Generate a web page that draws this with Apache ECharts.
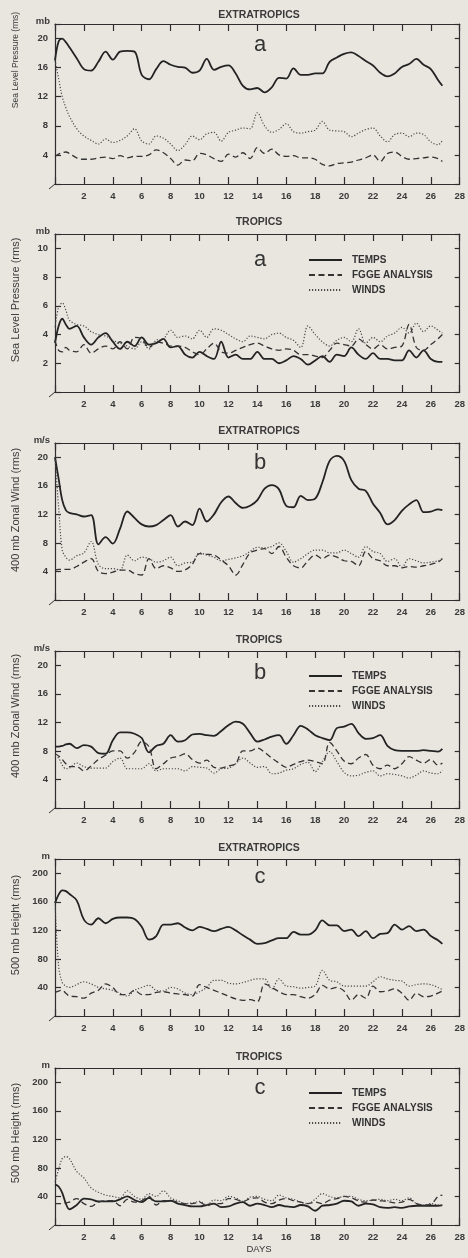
<!DOCTYPE html>
<html><head><meta charset="utf-8">
<script src="https://cdn.jsdelivr.net/npm/echarts@6/dist/echarts.min.js"></script>
<style>html,body{margin:0;padding:0;background:#e9e6e0;}#c{width:468px;height:1258px;}</style>
</head><body><div id="c"></div>
<script>
// ---------- DATA ----------
const days = [0,0.25,0.5,0.75,1,1.5,2,2.5,3,3.5,4,4.5,5,5.5,6,6.5,7,7.5,8,8.5,9,9.5,10,10.5,11,11.5,12,12.5,13,13.5,14,14.5,15,15.5,16,16.5,17,17.5,18,18.5,19,19.5,20,20.5,21,21.5,22,22.5,23,23.5,24,24.5,25,25.5,26,26.5,26.8];

const seriesNames = ['TEMPS','FGGE ANALYSIS','WINDS'];
const panelTitles = ['EXTRATROPICS','TROPICS','EXTRATROPICS','TROPICS','EXTRATROPICS','TROPICS'];
const panelLetters = ['a','a','b','b','c','c'];
const unitLabels = ['mb','mb','m/s','m/s','m','m'];
const yTitles = ['Sea Level Pressure (rms)','Sea Level Pressure (rms)','400 mb Zonal Wind (rms)','400 mb Zonal Wind (rms)','500 mb Height (rms)','500 mb Height (rms)'];
const yMax = [22,11,22,22,220,220];
const yStep = [4,2,4,4,40,40];
const xLabel = 'DAYS';

// Sea level pressure, extratropics (mb)
const slpExtTemps = [17,19.6,20,19.5,18.8, 17.3,15.8,15.6,16.8,18.2, 17.1,18.2,18.3,18.2,15.0, 14.4,15.8,16.9,16.4,16.1, 16.0,15.3,15.6,17.2,15.7, 16.1,16.3,15.2,13.5,13.0, 13.2,12.6,13.3,14.6,14.5, 15.9,15.0,15.0,15.2,15.2, 16.8,17.4,17.9,18.1,17.6, 16.9,16.3,15.3,14.8,15.2, 16.1,16.5,17.2,16.4,15.8, 14.3,13.5];
const slpExtFgge  = [3.8,4.1,4.3,4.4,4.2, 3.6,3.4,3.4,3.6,3.7, 3.5,3.9,3.6,3.8,3.8, 4.0,4.7,4.3,3.5,2.6, 3.3,3.2,4.2,4.0,3.5, 3.1,4.1,3.7,4.3,3.5, 5.0,4.2,4.8,4.0,3.8, 3.9,3.6,3.6,3.4,2.7, 2.5,2.8,2.9,3.0,3.3, 3.6,4.0,3.1,4.2,4.4, 3.8,3.4,3.5,3.6,3.7, 3.5,3.1];
const slpExtWinds = [17,14.5,12,10.5,9.3, 7.6,6.6,6.0,5.5,6.2, 5.7,6.0,6.6,7.6,5.9, 5.5,6.6,6.3,5.5,4.6, 5.4,6.6,6.1,6.9,7.1, 5.9,7.1,7.4,7.7,7.6, 9.8,8.0,7.1,7.5,8.3, 7.2,7.0,7.2,7.4,8.6, 7.4,7.3,7.2,6.5,7.0, 7.5,7.7,6.6,5.8,6.8, 7.0,6.5,7.0,6.8,5.8, 5.4,6.0];

// Sea level pressure, tropics (mb)
const slpTropTemps = [3.4,4.6,5.1,4.7,4.4, 4.6,3.8,3.3,3.8,4.1, 3.5,3.0,3.5,3.2,3.8, 3.3,3.4,3.7,3.1,3.2, 2.6,2.4,2.8,2.5,2.3, 3.5,2.4,2.6,2.3,2.3, 2.8,2.3,2.3,2.0,2.2, 2.5,2.3,1.9,2.2,2.5, 2.1,2.6,2.5,3.1,2.6, 2.3,2.7,2.3,2.3,2.2, 2.2,2.9,2.4,2.9,2.3, 2.1,2.1];
const slpTropFgge  = [3.6,2.9,2.8,3.1,2.9, 2.8,3.3,2.7,3.0,3.2, 3.0,3.5,3.0,3.8,3.7, 3.1,3.5,3.4,3.2,3.2, 3.1,2.8,2.6,3.0,3.4, 2.8,2.7,2.9,3.1,3.3, 3.4,3.2,3.0,2.9,3.0, 2.9,2.6,2.6,2.5,2.4, 2.9,3.4,3.3,3.2,3.7, 3.3,3.0,3.3,3.0,3.1, 3.2,4.7,3.1,2.9,3.3, 3.7,4.0];
const slpTropWinds = [4.5,5.9,6.2,5.7,5.0, 4.7,4.6,4.2,4.0,3.9, 3.6,3.4,3.2,3.0,3.5, 3.0,3.6,3.7,4.3,3.8, 3.9,3.7,4.3,3.8,4.4, 4.3,4.0,3.7,3.5,3.9, 3.8,3.7,4.0,4.1,3.8, 3.6,3.1,4.6,4.0,3.5, 3.2,3.6,3.8,3.5,4.4, 3.4,3.8,3.5,3.9,4.1, 4.5,4.1,4.8,4.2,4.6, 4.3,4.1];

// 400 mb zonal wind, extratropics (m/s)
const windExtTemps = [20,17,14,12.6,12.2, 12,11.7,11.9,7.8,8.8, 7.9,10,12.4,11.5,10.6, 10.3,10.5,11.2,11.9,10.3, 11,10.5,12.8,11,12, 13.7,14.5,13.6,12.9,13.2, 14,15.6,16.1,15.5,13.2, 13,14.6,14,14.2,16.5, 19.5,20.2,19.5,16.8,15.6, 15.3,13.5,12.2,10.6,11.2, 12.5,13.4,14,12.3,12.4, 12.7,12.6];
const windExtFgge  = [4.2,4.3,4.3,4.3,4.3, 4.7,5.3,5.8,4.0,3.7, 3.9,4.2,4.2,3.7,3.5, 5.8,4.4,4.8,4.5,4.0, 4.2,5.0,6.5,6.4,6.3, 5.6,4.8,3.5,5.0,6.6, 7.0,7.2,6.5,7.5,6.0, 4.8,4.5,5.5,6.3,5.8, 6.3,6.0,5.5,5.4,4.8, 6.8,5.8,5.5,4.8,4.8, 4.5,4.7,4.6,4.8,5.0, 5.3,5.8];
const windExtWinds = [20,13,7,6,5.6, 6.2,6.6,8.2,5.0,4.4, 4.4,4.2,6.3,5.5,6.0, 5.8,5.3,5.5,6.0,4.8, 5.2,5.3,6.6,6.3,6.0, 5.5,5.7,5.9,6.2,6.8, 7.4,7.3,7.5,8.0,6.8, 5.3,5.8,6.5,7.0,7.0, 6.6,6.6,7.0,6.5,6.0, 7.5,6.8,6.5,5.4,5.8, 4.6,5.8,5.5,5.2,5.3, 5.5,5.8];

// 400 mb zonal wind, tropics (m/s)
const windTropTemps = [8.6,8.6,8.7,8.9,9.0, 8.4,8.8,8.6,7.7,7.6, 9.5,10.6,10.6,10.4,9.8, 7.8,8.7,9.0,10.2,9.3, 9.5,10.3,10.4,10.2,10.1, 10.8,11.6,12.1,11.8,10.5, 9.3,9.6,10.0,10.2,9.0, 10.2,11.5,11.0,10.2,9.8, 9.5,11.2,11.4,11.8,10.5, 9.7,9.8,10.2,8.7,8.1, 8.0,8.0,8.0,8.1,8.0, 7.9,8.3];
const windTropFgge  = [7.6,7.3,6.8,6.2,5.8, 5.8,5.2,5.9,6.8,7.4, 8.0,8.0,7.0,7.8,9.3, 8.6,5.5,6.2,7.0,7.2, 7.6,6.8,6.3,6.7,5.7, 5.6,5.9,6.2,8.0,8.0, 8.4,7.8,7.0,6.3,5.7, 6.1,6.5,6.7,6.5,6.2, 9.2,8.0,6.6,6.2,7.0, 7.5,6.0,5.5,6.0,5.5, 6.2,7.2,6.7,6.3,6.8, 6.0,6.3];
const windTropWinds = [7.3,7.0,6.0,5.5,5.6, 6.3,5.8,5.6,5.6,5.6, 6.5,7.0,5.5,5.5,5.5, 6.2,5.2,5.5,5.5,5.5, 5.2,5.8,5.7,5.6,4.9, 5.5,5.6,6.2,7.0,6.3, 5.7,5.8,4.8,4.9,5.3, 5.5,6.1,6.4,5.1,6.5, 7.9,6.5,5.0,4.5,4.6, 5.0,5.2,4.5,4.8,4.7, 4.5,4.2,4.6,5.2,4.9, 4.8,5.3];

// 500 mb height, extratropics (m)
const hgtExtTemps = [158,170,176,175,171, 162,135,128,137,130, 136,138,138,136,125, 107,112,128,128,130, 124,120,125,122,119, 122,125,120,113,107, 101,102,106,109,109, 118,114,114,120,134, 127,127,119,121,112, 119,109,115,116,128, 121,126,119,121,112, 106,101];
const hgtExtFgge  = [33,35,36,32,28, 27,25,32,36,45, 40,30,30,36,30, 30,33,34,32,31, 30,28,44,40,36, 32,28,24,22,23, 20,45,40,34,30, 30,27,25,30,43, 38,40,35,22,30, 25,42,34,35,38, 32,22,32,27,28, 32,35];
const hgtExtWinds = [160,70,47,42,40, 44,48,45,40,38, 36,32,28,36,40, 43,36,35,40,38, 32,30,34,40,50, 50,46,45,47,50, 52,52,38,52,42, 41,39,40,42,64, 50,48,42,42,42, 42,48,55,52,50, 49,42,44,45,44, 40,37];

// 500 mb height, tropics (m)
const hgtTropTemps = [57,54,45,30,22, 28,37,36,33,33, 33,36,40,35,32, 38,33,33,34,30, 28,26,26,28,30, 25,26,30,32,27, 30,28,25,28,26, 25,28,26,20,27, 28,30,34,33,27, 30,29,25,24,25, 24,26,27,27,27, 27,28];
const hgtTropFgge  = [30,30,30,31,32, 37,30,26,32,34, 34,27,36,32,34, 40,28,34,34,32, 30,30,32,27,30, 30,37,36,33,37, 38,32,30,35,37, 34,32,30,32,30, 35,37,40,38,34, 32,35,34,33,31, 32,36,30,28,29, 40,42];
const hgtTropWinds = [60,78,93,96,93, 75,66,52,46,42, 40,38,48,40,36, 44,40,48,38,34, 30,31,33,28,35, 34,40,38,33,39, 40,36,34,42,38, 36,32,30,36,44, 40,38,40,40,36, 34,35,36,34,36, 34,38,30,28,30, 28,27];

const panelSeries = [
  [slpExtTemps, slpExtFgge, slpExtWinds],
  [slpTropTemps, slpTropFgge, slpTropWinds],
  [windExtTemps, windExtFgge, windExtWinds],
  [windTropTemps, windTropFgge, windTropWinds],
  [hgtExtTemps, hgtExtFgge, hgtExtWinds],
  [hgtTropTemps, hgtTropFgge, hgtTropWinds]
];

// ---------- LAYOUT / STYLE ----------
const FONT = '"Liberation Sans", Arial, sans-serif';
const INK = '#2e2e2e';
const layout = [
  {top: 24,   h: 160, titleY: 15,   letterY: 45,   yTitleY: 60,   yTitleSize: 8.5, legendY: null},
  {top: 234,  h: 158, titleY: 222,  letterY: 260,  yTitleY: 300,  yTitleSize: 11,  legendY: 260},
  {top: 443,  h: 157, titleY: 431,  letterY: 463,  yTitleY: 510,  yTitleSize: 11,  legendY: null},
  {top: 651,  h: 157, titleY: 640,  letterY: 673,  yTitleY: 716,  yTitleSize: 11,  legendY: 676},
  {top: 859,  h: 157, titleY: 848,  letterY: 877,  yTitleY: 925,  yTitleSize: 11,  legendY: null},
  {top: 1068, h: 157, titleY: 1057, letterY: 1088, yTitleY: 1133, yTitleSize: 11,  legendY: 1093}
];
const GL = 55, GR = 5;
const lineStyles = [
  {type: 'solid', width: 1.8, color: '#232323'},
  {type: [6, 3.5], width: 1.3, color: '#333333'},
  {type: [1.2, 1.8], width: 1.2, color: '#4a4a4a'}
];

const grid = [], xAxis = [], yAxis = [], series = [], graphic = [], legend = [];
layout.forEach((L, i) => {
  grid.push({left: GL, right: GR, top: L.top, height: L.h});
  const axLine = {show: true, onZero: false, lineStyle: {color: INK, width: 1.2}};
  const tick = {show: true, inside: true, length: 7, lineStyle: {color: INK, width: 1.2}};
  const lbl = {show: true, margin: 7, fontSize: 9.5, fontWeight: 'bold', color: '#3a3a3a', fontFamily: FONT};
  xAxis.push({type: 'value', gridIndex: i, min: 0, max: 28, interval: 2, position: 'bottom',
    axisLine: axLine, axisTick: tick, splitLine: {show: false},
    axisLabel: Object.assign({}, lbl, {formatter: v => (v === 0 ? '' : String(v))})});
  xAxis.push({type: 'value', gridIndex: i, min: 0, max: 28, interval: 2, position: 'top',
    axisLine: axLine, axisTick: tick, splitLine: {show: false}, axisLabel: {show: false}});
  const mx = yMax[i], st = yStep[i];
  yAxis.push({type: 'value', gridIndex: i, min: 0, max: mx, interval: st, position: 'left',
    axisLine: axLine, axisTick: {show: true, inside: true, length: 6, lineStyle: {color: INK, width: 1.2}},
    splitLine: {show: false},
    axisLabel: Object.assign({}, lbl, {formatter: v => (v > 0 && v < mx && v % st === 0 ? String(v) : '')})});
  yAxis.push({type: 'value', gridIndex: i, min: 0, max: mx, interval: st, position: 'right',
    axisLine: axLine, axisTick: {show: true, inside: true, length: 5, lineStyle: {color: INK, width: 1.2}},
    splitLine: {show: false}, axisLabel: {show: false}});

  panelSeries[i].forEach((arr, s) => {
    series.push({
      type: 'line', name: seriesNames[s], xAxisIndex: 2 * i, yAxisIndex: 2 * i,
      data: days.map((d, k) => [d, arr[k]]),
      symbol: 'none', smooth: 0.35, silent: true,
      lineStyle: lineStyles[s], itemStyle: {color: lineStyles[s].color}
    });
  });

  graphic.push({type: 'text', x: 259, y: L.titleY, silent: true,
    style: {text: panelTitles[i], fontSize: 10.5, fontWeight: 'bold', fontFamily: FONT, fill: '#3a3a3a',
      align: 'center', verticalAlign: 'middle'}});
  graphic.push({type: 'text', x: 260, y: L.letterY, silent: true,
    style: {text: panelLetters[i], fontSize: 22, fontFamily: FONT, fill: '#333',
      align: 'center', verticalAlign: 'middle'}});
  graphic.push({type: 'text', x: 50, y: L.top - 3, silent: true,
    style: {text: unitLabels[i], fontSize: 9.5, fontWeight: 'bold', fontFamily: FONT, fill: '#3a3a3a',
      align: 'right', verticalAlign: 'middle'}});
  graphic.push({type: 'text', x: 16, y: L.yTitleY, rotation: Math.PI / 2, silent: true,
    style: {text: yTitles[i], fontSize: L.yTitleSize, fontFamily: FONT, fill: '#3a3a3a',
      align: 'center', verticalAlign: 'middle'}});
  graphic.push({type: 'line', silent: true,
    shape: {x1: GL - 6, y1: L.top + L.h + 5, x2: GL, y2: L.top + L.h},
    style: {stroke: INK, lineWidth: 1}});

  if (L.legendY !== null) {
    legend.push({
      data: seriesNames, orient: 'vertical', left: 308, top: L.legendY - 5,
      padding: 0, itemWidth: 33, itemHeight: 10, itemGap: 5, selectedMode: false,
      itemStyle: {opacity: 0},
      textStyle: {fontSize: 10, fontWeight: 'bold', color: '#333', fontFamily: FONT, padding: [0, 0, 0, 5]}
    });
  }
});
graphic.push({type: 'text', x: 259, y: 1249, silent: true,
  style: {text: xLabel, fontSize: 9.5, fontFamily: FONT, fill: '#333', align: 'center', verticalAlign: 'middle'}});

const chart = echarts.init(document.getElementById('c'), null, {renderer: 'canvas'});
chart.setOption({
  backgroundColor: '#e9e6e0',
  animation: false,
  grid, xAxis, yAxis, series, legend, graphic
});
</script>
</body></html>
